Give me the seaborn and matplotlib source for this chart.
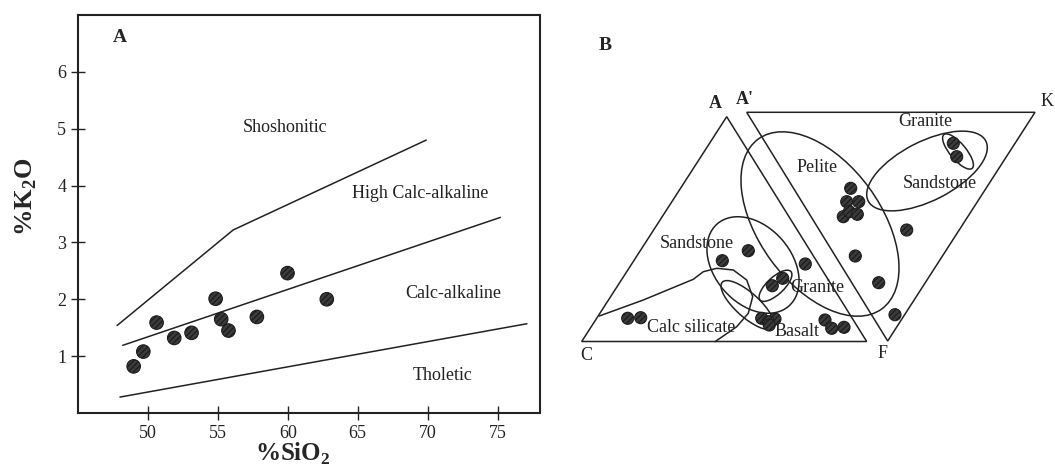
import numpy as np
import matplotlib
matplotlib.use('Agg')
import matplotlib.pyplot as plt
from matplotlib.patches import Ellipse, Polygon
import seaborn as sns

# ---- panel A: K2O vs SiO2 (Peccerillo & Taylor style) ----
sio2 = [48.98, 49.67, 50.62, 51.88, 53.12, 54.84, 55.24, 55.76, 57.79, 59.98, 62.79]
k2o = [0.82, 1.08, 1.59, 1.32, 1.41, 2.01, 1.65, 1.45, 1.69, 2.46, 2.00]

# field boundaries
shosh_x = [47.8, 56.1, 69.9]
shosh_y = [1.54, 3.22, 4.80]
hical_x = [48.2, 75.2]
hical_y = [1.19, 3.44]
thol_x = [48.0, 77.1]
thol_y = [0.28, 1.57]

field_names = ['Shoshonitic', 'High Calc-alkaline', 'Calc-alkaline', 'Tholetic']
field_x = [59.8, 69.5, 71.8, 71.1]
field_y = [5.02, 3.86, 2.10, 0.66]

xticks_a = [50, 55, 60, 65, 70, 75]
yticks_a = [1, 2, 3, 4, 5, 6]

# ---- panel B: ACF / A'KF diagram (diagram units, y downwards) ----
acf_tri = [(726.7, 116.7), (581.7, 341.5), (866.7, 341.5)]
akf_tri = [(746.7, 112.3), (1035.0, 112.3), (887.7, 341.0)]
corner_names = ['A', "A'", 'K', 'C', 'F']
corner_x = [715, 745, 1047, 586, 883]
corner_y = [104, 99, 102, 356, 353]

pts_x = [627.7, 640.7, 722.3, 748.3, 772.3, 782.7, 805.3,
         761.7, 775.0, 768.3, 769.3, 825.0, 831.7, 844.0,
         850.7, 846.7, 858.7, 843.3, 849.3, 857.3, 855.3,
         878.7, 895.0, 906.7, 953.3, 956.7]
pts_y = [318.3, 317.7, 260.7, 250.7, 285.7, 278.3, 264.0,
         318.3, 319.0, 321.7, 325.0, 320.0, 328.3, 327.3,
         188.3, 201.7, 201.7, 216.7, 211.7, 214.3, 256.0,
         282.7, 314.7, 230.0, 143.3, 156.7]

# ellipse fields: centre x, centre y, width, height, angle
ell_cx = [820, 927, 958, 753, 775.5, 747.5]
ell_cy = [224, 171, 151.5, 265, 285.8, 305]
ell_w = [210, 132, 44, 109, 42, 68]
ell_h = [122, 59, 16, 77, 17, 24]
ell_ang = [54, -27, 50, 49, -43, 42]

calc_x = [599.3, 643.3, 693.3, 703.3, 716.7, 733.3, 746.7, 752.7, 748.3, 736.7, 723.3, 715.0]
calc_y = [316.0, 300.0, 279.3, 271.7, 268.3, 270.0, 280.0, 296.7, 313.3, 326.7, 336.0, 341.7]

rock_names = ['Pelite', 'Granite', 'Sandstone', 'Sandstone', 'Granite', 'Calc silicate', 'Basalt']
rock_x = [817, 925, 940, 697, 817, 691, 797]
rock_y = [167, 122, 183, 244, 288, 327, 332]

sns.set_style('ticks')
plt.rcParams['font.family'] = ['Liberation Serif', 'DejaVu Serif']
plt.rcParams['mathtext.fontset'] = 'custom'
plt.rcParams['mathtext.rm'] = 'Liberation Serif'
plt.rcParams['mathtext.bf'] = 'Liberation Serif:bold'
plt.rcParams['hatch.color'] = '#9a9a9a'
plt.rcParams['hatch.linewidth'] = 1.0

fig = plt.figure(figsize=(10.55, 4.66), dpi=100)
ax = fig.add_axes([78 / 1055, 53 / 466, 461.5 / 1055, 398 / 466])

sns.lineplot(x=shosh_x, y=shosh_y, ax=ax, color='#222222', lw=1.1, sort=False, estimator=None)
sns.lineplot(x=hical_x, y=hical_y, ax=ax, color='#222222', lw=1.1, sort=False, estimator=None)
sns.lineplot(x=thol_x, y=thol_y, ax=ax, color='#222222', lw=1.1, sort=False, estimator=None)
sns.scatterplot(x=sio2, y=k2o, ax=ax, s=95, color='#3c3c3c', edgecolor='#1e1e1e',
                linewidth=0.8, hatch='//////', zorder=3)
for name, fx, fy in zip(field_names, field_x, field_y):
    ax.text(fx, fy, name, ha='center', va='center', fontsize=13, color='#222222')
ax.text(48.0, 6.6, 'A', ha='center', va='center', fontsize=14, fontweight='bold')

ax.set_xlim(45, 78)
ax.set_ylim(0, 7)
ax.set_xticks(xticks_a)
ax.set_yticks(yticks_a)
ax.tick_params(direction='inout', length=10, width=1.0, labelsize=13, colors='#222222')
for sp in ax.spines.values():
    sp.set_visible(True)
    sp.set_linewidth(1.5)
    sp.set_color('#222222')
# axis titles placed where the original has them
fig.text(293 / 1055, 1 - 461 / 466, '%SiO$_\\mathbf{2}$', fontsize=18, fontweight='bold',
         ha='center', va='baseline')
fig.text(26 / 1055, 1 - 197 / 466, '%K$_\\mathbf{2}$O', fontsize=19, fontweight='bold',
         ha='center', va='center', rotation=90)

# ---- panel B ----
bx = fig.add_axes([560 / 1055, 0, 495 / 1055, 1])
bx.set_xlim(560, 1055)
bx.set_ylim(466, 0)
bx.axis('off')
bx.add_patch(Polygon(acf_tri, closed=True, fill=False, ec='#222222', lw=1.1))
bx.add_patch(Polygon(akf_tri, closed=True, fill=False, ec='#222222', lw=1.1))
for cx, cy, w, h, a in zip(ell_cx, ell_cy, ell_w, ell_h, ell_ang):
    bx.add_patch(Ellipse((cx, cy), w, h, angle=a, fill=False, ec='#222222', lw=1.1))
bx.plot(calc_x, calc_y, color='#222222', lw=1.1)
sns.scatterplot(x=pts_x, y=pts_y, ax=bx, s=75, color='#3c3c3c', edgecolor='#1e1e1e',
                linewidth=0.8, hatch='//////', zorder=3)
for name, tx, ty in zip(rock_names, rock_x, rock_y):
    bx.text(tx, ty, name, ha='center', va='center', fontsize=13, color='#222222')
for name, tx, ty in zip(corner_names, corner_x, corner_y):
    bold = 'bold' if name.startswith('A') else 'normal'
    bx.text(tx, ty, name, ha='center', va='center', fontsize=13, fontweight=bold, color='#222222')
bx.text(605, 45, 'B', ha='center', va='center', fontsize=14, fontweight='bold')

fig.savefig('out.png', dpi=100)
